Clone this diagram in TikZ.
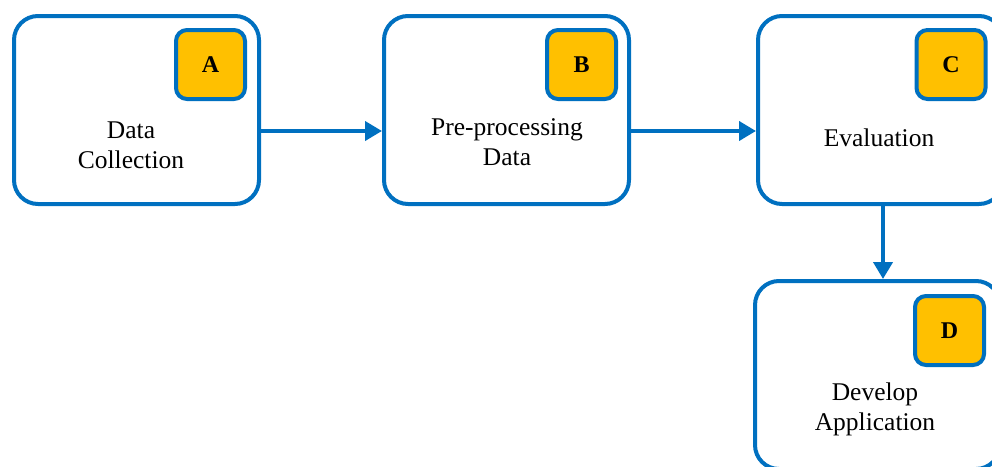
\documentclass[tikz,border=0pt]{standalone}
\usepackage{fontspec}
\setmainfont{Liberation Serif}
\usetikzlibrary{arrows.meta}
\definecolor{stepblue}{RGB}{0,112,192}
\definecolor{tagyellow}{RGB}{255,192,0}

\begin{document}
\begin{tikzpicture}[x=1pt,y=-1pt,
  stagebox/.style={draw=stepblue,line width=4pt,rounded corners=24pt,fill=white,
    minimum width=245pt,minimum height=188pt,inner sep=0pt},
  tagbox/.style={draw=stepblue,line width=4pt,rounded corners=11pt,fill=tagyellow,
    minimum size=69pt,inner sep=0pt,font=\fontsize{24}{28}\selectfont\bfseries},
  stagetext/.style={align=center,font=\fontsize{25.5}{30}\selectfont},
  flow/.style={draw=stepblue,line width=4pt,-{Triangle[length=17pt,width=19pt]}}]
\useasboundingbox (0,0) rectangle (992,466);
\clip (0,0) rectangle (992,466);

% stages
\node[stagebox] (collect) at (136.5,110) {};
\node[stagebox] (prep) at (506.5,110) {};
\node[stagebox] (eval) at (880.5,110) {};
\node[stagebox] (app) at (877.5,375) {};

% letter tags
\node[tagbox] (taga) at (210.5,64.5) {A};
\node[tagbox] (tagb) at (581.5,64.5) {B};
\node[tagbox] (tagc) at (951,64.5) {C};
\node[tagbox] (tagd) at (949.5,330.5) {D};

% stage names
\node[stagetext] (collecttxt) at (131,145) {Data\\Collection};
\node[stagetext] (preptxt) at (507,142) {Pre-processing\\Data};
\node[stagetext] (evaltxt) at (879,138) {Evaluation};
\node[stagetext] (apptxt) at (875,409) {Develop\\Application};

% flow
\draw[flow] ([yshift=-21pt]collect.east) -- ([yshift=-21pt]prep.west);
\draw[flow] ([yshift=-21pt]prep.east) -- ([yshift=-21pt]eval.west);
\draw[flow] ([xshift=2.5pt]eval.south) -- ([xshift=2.5pt]eval.south |- app.north);
\end{tikzpicture}
\end{document}
